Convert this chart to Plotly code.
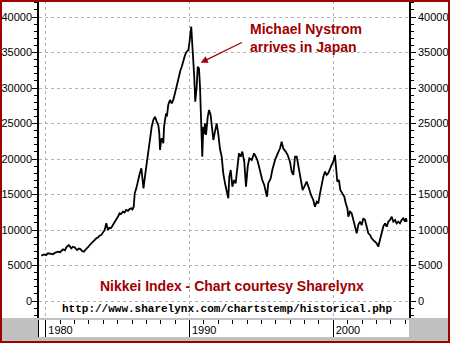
import plotly.graph_objects as go

# Nikkei 225 closing levels (decimal year, index level)
years = [
    1979.69, 1979.88, 1980.02, 1980.16, 1980.37, 1980.50, 1980.64, 1980.85, 1980.99,
    1981.20, 1981.34, 1981.43, 1981.60, 1981.69, 1981.78, 1981.90,
    1982.01, 1982.10, 1982.19, 1982.31, 1982.43, 1982.52, 1982.66, 1982.73, 1982.82, 1982.94,
    1983.06, 1983.15, 1983.29, 1983.43, 1983.52, 1983.63, 1983.74, 1983.86, 1983.98,
    1984.10, 1984.21, 1984.26, 1984.33, 1984.43, 1984.52, 1984.61, 1984.68, 1984.78, 1984.91,
    1985.03, 1985.14, 1985.23, 1985.37, 1985.48, 1985.60, 1985.72, 1985.83, 1985.95,
    1986.03, 1986.12, 1986.19, 1986.30, 1986.36, 1986.42, 1986.54, 1986.65, 1986.70, 1986.80, 1986.90,
    1987.02, 1987.13, 1987.25, 1987.37, 1987.48, 1987.60, 1987.72, 1987.83, 1987.90, 1987.95,
    1988.02, 1988.07, 1988.18, 1988.23, 1988.37, 1988.43, 1988.52, 1988.64, 1988.76, 1988.87, 1988.99,
    1989.06, 1989.15, 1989.22, 1989.29, 1989.37, 1989.46, 1989.51, 1989.57, 1989.69, 1989.80, 1989.92, 1989.99,
    1990.03, 1990.08, 1990.12, 1990.19, 1990.26, 1990.33, 1990.40, 1990.45, 1990.50, 1990.57, 1990.66,
    1990.73, 1990.78, 1990.85, 1990.89, 1990.96,
    1991.01, 1991.08, 1991.15, 1991.27, 1991.36, 1991.47, 1991.56, 1991.66, 1991.77, 1991.89,
    1992.00, 1992.12, 1992.24, 1992.35, 1992.47, 1992.59, 1992.70, 1992.77, 1992.87, 1992.98,
    1993.10, 1993.21, 1993.33, 1993.44, 1993.56, 1993.67, 1993.81, 1993.93,
    1994.05, 1994.16, 1994.33, 1994.49, 1994.61, 1994.72, 1994.84, 1994.95,
    1995.06, 1995.20, 1995.30, 1995.39, 1995.48, 1995.65, 1995.76, 1995.95,
    1996.14, 1996.30, 1996.41, 1996.52, 1996.69, 1996.83, 1996.99,
    1997.11, 1997.22, 1997.34, 1997.46, 1997.57, 1997.74, 1997.87, 1997.99,
    1998.15, 1998.31, 1998.45, 1998.61, 1998.73, 1998.85, 1998.96,
    1999.08, 1999.20, 1999.31, 1999.43, 1999.54, 1999.65, 1999.77, 1999.89,
    2000.00, 2000.12, 2000.19, 2000.28, 2000.40, 2000.49, 2000.63, 2000.77, 2000.87, 2000.98,
    2001.05, 2001.16, 2001.28, 2001.39, 2001.51, 2001.63, 2001.74, 2001.86, 2001.98,
    2002.09, 2002.21, 2002.33, 2002.44, 2002.56, 2002.67, 2002.79, 2002.90,
    2003.02, 2003.13, 2003.25, 2003.37, 2003.48, 2003.60, 2003.72, 2003.83, 2003.95,
    2004.07, 2004.18, 2004.30, 2004.41, 2004.52, 2004.64, 2004.76, 2004.87, 2004.99,
    2005.06, 2005.11,
]
nikkei = [
    6400, 6550, 6450, 6720, 6650, 6580, 6800, 6950, 6880,
    7280, 7150, 7560, 7890, 7700, 7420, 7650,
    7560, 7350, 7180, 7400, 7280, 7050, 6940, 7150, 7420, 7600,
    7890, 8100, 8350, 8600, 8830, 8950, 9200, 9300, 9700,
    10000, 10940, 10500, 10000, 10300, 10240, 10500, 10700, 11100, 11510,
    11900, 12350, 12250, 12580, 12450, 12820, 12700, 12950, 13060,
    12900, 13280, 15170, 15870, 16500, 17040, 17980, 18690, 17980, 15870, 17510,
    19400, 20330, 22210, 24550, 25490, 25960, 25260, 24790, 23620, 21270,
    22500, 22920, 22210, 24550, 26440, 26000, 27610, 28310, 27850, 28310, 29250,
    29900, 30890, 31500, 32070, 32500, 33000, 33400, 33940, 34650, 35110, 35350, 36300,
    37230, 38000, 38640, 36300, 34410, 31590, 28070, 29000, 30180, 33000, 32770,
    30180, 26900, 23140, 20330, 24550,
    23500, 25020, 23380, 25960, 26900, 26200, 24550, 22680, 23850, 25000,
    23620, 21400, 20330, 17980, 16580, 15630, 14470, 17510, 18450, 16100,
    17040, 16580, 18920, 20800, 20330, 21040, 19620, 16100,
    18920, 20100, 19860, 20800, 20330, 19860, 18920, 17980,
    17040, 16340, 15630, 14690, 16580, 17280, 18450, 19860,
    20800, 21510, 22440, 21510, 21040, 20560, 19620,
    18220, 17750, 20330, 20330, 18920, 17040, 15630, 16100,
    16810, 15870, 14930, 14230, 13280, 13990, 13760,
    15160, 16580, 17510, 18220, 17750, 17980, 18690, 19160,
    19620, 20560, 18920, 16810, 17040, 15630, 15160, 14690, 13760, 13060,
    11870, 12580, 12350, 11410, 10240, 9540, 10700, 11170, 10700,
    11650, 11410, 10240, 9540, 9300, 8830, 8590, 8350,
    8120, 7650, 8590, 9540, 10470, 10940, 10470, 11170, 11410,
    11870, 11170, 11410, 10940, 11170, 10940, 11410, 11650, 11170,
    11650, 11170,
]

decade_ticks = [1980, 1990, 2000]
decade_labels = ["1980", "1990", "2000"]
level_ticks = [0, 5000, 10000, 15000, 20000, 25000, 30000, 35000, 40000]

X_RANGE = [1979.53, 2005.27]
Y_RANGE = [-2394, 42255]

RED = "#a00000"
GRID = "#b4b4b4"
BAND = "#c0c0c0"
SANS = "Liberation Sans, Arial, sans-serif"

fig = go.Figure()
fig.add_trace(go.Scatter(
    x=years, y=nikkei, mode="lines",
    line=dict(color="black", width=1.8),
    hoverinfo="skip", showlegend=False,
))
# carrier traces so the right-hand scale and the date strip are built
fig.add_trace(go.Scatter(x=years, y=nikkei, yaxis="y3", mode="lines",
                         line=dict(color="rgba(0,0,0,0)", width=0),
                         hoverinfo="skip", showlegend=False))
fig.add_trace(go.Scatter(x=X_RANGE, y=[0.5, 0.5], xaxis="x2", yaxis="y2", mode="lines",
                         line=dict(color="rgba(0,0,0,0)", width=0),
                         hoverinfo="skip", showlegend=False))

main_bottom = 19 / 336
strip_top = 17 / 336

yaxis_common = dict(
    range=Y_RANGE, tickmode="array", tickvals=level_ticks, tickformat="d",
    ticks="outside", ticklen=5, tickcolor="black", tickwidth=1,
    minor=dict(dtick=1000, tick0=0, ticks="outside", ticklen=3,
               tickcolor="black", showgrid=False),
    showline=True, linecolor="black", linewidth=1.5,
    zeroline=False, tickfont=dict(family=SANS, size=11, color="black"),
    domain=[main_bottom, 1],
)

fig.update_layout(
    width=450, height=343,
    margin=dict(l=39, r=41, t=1, b=6, autoexpand=False),
    paper_bgcolor="white", plot_bgcolor="white",
    showlegend=False,
    xaxis=dict(
        range=X_RANGE, domain=[0, 1], anchor="y",
        tickmode="array", tickvals=decade_ticks, showticklabels=False,
        ticks="", showline=False, zeroline=False,
        showgrid=True, gridcolor=GRID, griddash="3px,3px", gridwidth=1,
    ),
    yaxis=dict(
        **yaxis_common, side="left", anchor="x", ticklabelstandoff=-2,
        showgrid=True, gridcolor=GRID, griddash="3px,3px", gridwidth=1,
    ),
    yaxis3=dict(
        **yaxis_common, side="right", overlaying="y", anchor="x",
        showgrid=False,
    ),
    xaxis2=dict(
        range=X_RANGE, domain=[0, 1], anchor="y2", side="top",
        tickmode="array", tickvals=decade_ticks, ticktext=decade_labels,
        ticks="inside", ticklen=4, tickcolor="black",
        minor=dict(tick0=1980, dtick=1, ticks="inside", ticklen=4,
                   tickcolor="black", showgrid=False),
        ticklabelposition="inside right", ticklabelshift=2,
        tickfont=dict(family=SANS, size=11, color="black"),
        showgrid=True, gridcolor="black", gridwidth=1,
        showline=False, zeroline=False,
    ),
    yaxis2=dict(
        range=[0, 1], domain=[0, strip_top], anchor="x2",
        showticklabels=False, ticks="", showgrid=False, zeroline=False,
        showline=True, linecolor="black", linewidth=1,
    ),
)

# grey frame band along the bottom and the white date strip
fig.add_shape(type="rect", xref="paper", yref="paper",
              x0=-39 / 370, x1=411 / 370, y0=-6 / 336, y1=main_bottom,
              fillcolor=BAND, line_width=0, layer="below")
fig.add_shape(type="rect", xref="paper", yref="paper",
              x0=0, x1=1, y0=0, y1=strip_top,
              fillcolor="white", line_width=0, layer="below")
# dark red outer border
fig.add_shape(type="rect", xref="paper", yref="paper",
              x0=-38 / 370, x1=410 / 370, y0=-5 / 336, y1=1.0,
              line=dict(color=RED, width=2), fillcolor="rgba(0,0,0,0)", layer="above")

# callout
fig.add_annotation(x=1994.07, y=37100, xref="x", yref="y",
                   text="Michael Nystrom<br>arrives in Japan",
                   showarrow=False, xanchor="left", yanchor="middle", align="left",
                   font=dict(family=SANS, size=14, color=RED, weight="bold"))
fig.add_annotation(x=1990.78, y=33560, xref="x", yref="y",
                   ax=1993.74, ay=36520, axref="x", ayref="y",
                   text="", showarrow=True, arrowhead=2, arrowsize=1.1,
                   arrowwidth=1.3, arrowcolor=RED)

# credits
fig.add_annotation(x=1992.99, y=2113, xref="x", yref="y",
                   text="Nikkei Index - Chart courtesy Sharelynx",
                   showarrow=False, xanchor="center", yanchor="middle",
                   font=dict(family=SANS, size=14, color=RED, weight="bold"))
fig.add_annotation(x=1992.61, y=-1127, xref="x", yref="y",
                   text="http://www.sharelynx.com/chartstemp/historical.php",
                   showarrow=False, xanchor="center", yanchor="middle",
                   font=dict(family="Liberation Mono, Courier New, monospace", size=11,
                             color="black", weight="bold"))

fig.write_html("out.html")
